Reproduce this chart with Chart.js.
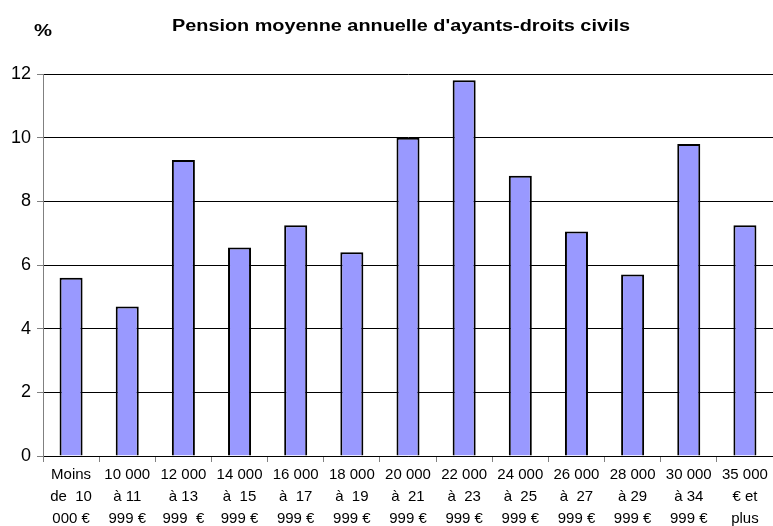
<!DOCTYPE html>
<html>
<head>
<meta charset="utf-8">
<script src="https://cdn.jsdelivr.net/npm/chart.js@4/dist/chart.umd.min.js"></script>
<style>html,body{margin:0;padding:0;background:#fff;}canvas{display:block;}</style>
</head>
<body>
<canvas id="c" width="773" height="526"></canvas>
<script>
const categories = [
  ["Moins","de  10","000 €"],
  ["10 000","à 11","999 €"],
  ["12 000","à 13","999  €"],
  ["14 000","à  15","999 €"],
  ["16 000","à  17","999 €"],
  ["18 000","à  19","999 €"],
  ["20 000","à  21","999 €"],
  ["22 000","à  23","999 €"],
  ["24 000","à  25","999 €"],
  ["26 000","à  27","999 €"],
  ["28 000","à 29","999 €"],
  ["30 000","à 34","999 €"],
  ["35 000","€ et","plus"]
];
const values = [5.6, 4.7, 9.3, 6.55, 7.25, 6.4, 10.0, 11.8, 8.8, 7.05, 5.7, 9.8, 7.25];
const titleText = "Pension moyenne annuelle d'ayants-droits civils";
const unitText = "%";
const FONT = "'Liberation Sans', Arial, sans-serif";

function stretchedText(ctx, text, cx, cy, targetW) {
  const w = ctx.measureText(text).width;
  const k = targetW / w;
  ctx.save();
  ctx.translate(cx, cy);
  ctx.scale(k, 1);
  ctx.fillText(text, 0, 0);
  ctx.restore();
}

const textPlugin = {
  id: 'texts',
  afterDraw(chart) {
    const ctx = chart.ctx;
    ctx.save();
    ctx.fillStyle = '#000';
    ctx.textBaseline = 'middle';
    ctx.textAlign = 'center';
    ctx.font = "bold 16px " + FONT;
    stretchedText(ctx, titleText, 401, 27, 458);
    ctx.font = "bold 16px " + FONT;
    stretchedText(ctx, unitText, 43, 32, 18);
    ctx.restore();
  }
};

new Chart(document.getElementById('c'), {
  type: 'bar',
  data: {
    labels: categories,
    datasets: [{
      data: values,
      backgroundColor: '#9999FF',
      borderColor: '#000000',
      borderWidth: 2,
      categoryPercentage: 1.0,
      barPercentage: 0.41
    }]
  },
  options: {
    responsive: false,
    devicePixelRatio: 1,
    animation: false,
    layout: { padding: { top: 74, right: 0, left: 0, bottom: 0 } },
    plugins: { legend: { display: false }, tooltip: { enabled: false }, title: { display: false } },
    scales: {
      x: {
        offset: true,
        grid: { offset: true, drawOnChartArea: false, drawTicks: true, tickLength: 6, color: '#808080' },
        border: { color: '#000', width: 1 },
        ticks: { color: '#000', font: { family: FONT, size: 15, lineHeight: 1.45 }, padding: 2, maxRotation: 0, autoSkip: false },
        afterFit(s) { s.height = 70; }
      },
      y: {
        min: 0, max: 12,
        ticks: { stepSize: 2, color: '#000', font: { family: FONT, size: 18 }, padding: 6 },
        grid: { color: '#000', lineWidth: 1, tickLength: 6, tickColor: '#808080' },
        border: { color: '#808080', width: 1 },
        afterFit(s) { s.width = 43; }
      }
    }
  },
  plugins: [textPlugin]
});
</script>
</body>
</html>
